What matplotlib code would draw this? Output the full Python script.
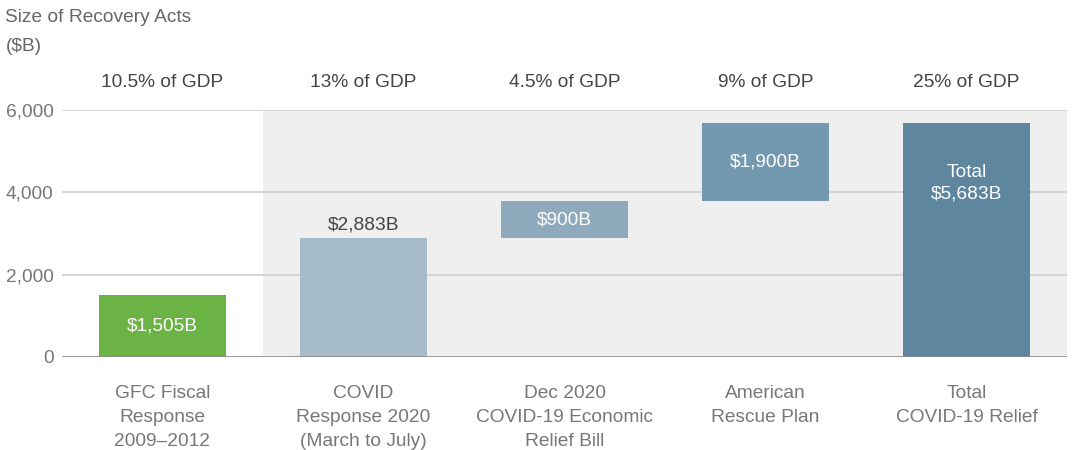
from matplotlib import pyplot as plt
from matplotlib.ticker import FuncFormatter

plt.rcParams['font.family'] = ['Liberation Sans', 'DejaVu Sans']

categories = ['GFC Fiscal\nResponse\n2009\u20132012', 'COVID\nResponse 2020\n(March to July)',
              'Dec 2020\nCOVID-19 Economic\nRelief Bill', 'American\nRescue Plan', 'Total\nCOVID-19 Relief']
values = [1505, 2883, 900, 1900, 5683]
bottoms = [0, 0, 2883, 3783, 0]
gdp_labels = ['10.5% of GDP', '13% of GDP', '4.5% of GDP', '9% of GDP', '25% of GDP']
value_labels = ['$1,505B', '$2,883B', '$900B', '$1,900B', 'Total\n$5,683B']
colors = ['#6bb344', '#a7bccb', '#8eaabc', '#7399b1', '#5e879f']

fs = 13.8
fig = plt.figure(figsize=(10.8, 4.5), dpi=100)
ax = fig.add_axes([0.0574, 0.2067, 0.9306, 0.5489])

x = list(range(len(categories)))
ax.axvspan(0.5, 4.5, color='#eeefee', zorder=0, lw=0)
for y in [2000, 4000, 6000]:
    ax.axhline(y, color='#cfcfcf', lw=1.2, zorder=1)
ax.axhline(0, color='#8a8a8a', lw=1.2, zorder=3)

ax.bar(x, values, bottom=bottoms, width=0.63, color=colors, zorder=2)

# labels on / above bars
ax.text(0, 750, value_labels[0], ha='center', va='center', color='white', fontsize=fs)
ax.text(1, 2883 + 120, value_labels[1], ha='center', va='bottom', color='#444444', fontsize=fs)
ax.text(2, 2883 + 450, value_labels[2], ha='center', va='center', color='white', fontsize=fs)
ax.text(3, 3783 + 950, value_labels[3], ha='center', va='center', color='white', fontsize=fs)
ax.text(4, 4215, value_labels[4], ha='center', va='center', color='white', fontsize=fs,
        linespacing=1.35)

for i, g in enumerate(gdp_labels):
    ax.text(i, 6660, g, ha='center', va='center', color='#444444', fontsize=fs)

ax.set_xlim(-0.5, 4.5)
ax.set_ylim(0, 6000)
ax.set_yticks([0, 2000, 4000, 6000])
ax.yaxis.set_major_formatter(FuncFormatter(lambda v, p: f'{int(v):,}'))
ax.set_xticks(x)
ax.set_xticklabels(categories, linespacing=1.55)
ax.tick_params(axis='both', length=0, labelsize=fs, colors='#777777')
ax.tick_params(axis='y', pad=6)
ax.tick_params(axis='x', pad=20)
for s in ax.spines.values():
    s.set_visible(False)

fig.text(0.005, 0.962, 'Size of Recovery Acts', ha='left', va='center', color='#666666', fontsize=fs)
fig.text(0.005, 0.897, '($B)', ha='left', va='center', color='#666666', fontsize=fs)

fig.savefig('out.png', dpi=100)
